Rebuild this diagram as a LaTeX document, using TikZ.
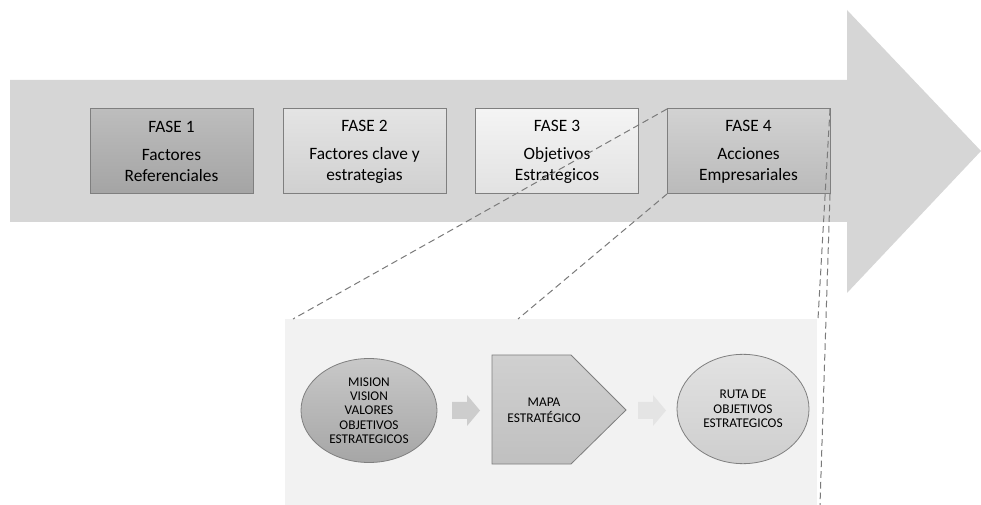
\documentclass[tikz,border=0pt]{standalone}
\usepackage{fontspec}
\setmainfont{Carlito}[Ligatures=CommonOff]
\usetikzlibrary{shapes.geometric}

\definecolor{band}{HTML}{D6D6D6}
\definecolor{panelbg}{HTML}{F2F2F2}
\definecolor{edge}{HTML}{7F7F7F}
\definecolor{dashc}{HTML}{7A7A7A}
\definecolor{stepA}{HTML}{CDCDCD}
\definecolor{stepB}{HTML}{E4E4E4}
\definecolor{oneTop}{HTML}{BDBDBD}
\definecolor{oneBot}{HTML}{A4A4A4}
\definecolor{twoTop}{HTML}{E4E4E4}
\definecolor{twoBot}{HTML}{D0D0D0}
\definecolor{threeTop}{HTML}{F4F4F4}
\definecolor{threeBot}{HTML}{E2E2E2}
\definecolor{fourTop}{HTML}{D2D2D2}
\definecolor{fourBot}{HTML}{BABABA}
\definecolor{misTop}{HTML}{C8C8C8}
\definecolor{misBot}{HTML}{A6A6A6}
\definecolor{mapTop}{HTML}{D0D0D0}
\definecolor{mapBot}{HTML}{C0C0C0}
\definecolor{rutaTop}{HTML}{E2E2E2}
\definecolor{rutaBot}{HTML}{CECECE}

\begin{document}
\begin{tikzpicture}[x=0.75pt,y=-0.75pt,
  phase/.style={draw=edge, line width=0.75pt, minimum width=122.25pt,
    minimum height=63.75pt, outer sep=0pt, inner sep=0pt, align=center,
    font=\fontsize{13}{15.75}\selectfont},
  blob/.style={ellipse, draw=edge, line width=0.6pt, inner sep=0pt, outer sep=0pt},
  label/.style={align=center, inner sep=0pt, font=\fontsize{10}{10.75}\selectfont},
  link/.style={draw=dashc, dash pattern=on 5pt off 3pt, line width=0.75pt},
  panel/.style={fill=panelbg, inner sep=0pt, outer sep=0pt,
    minimum width=399pt, minimum height=139.5pt}
]
\useasboundingbox (0,0) rectangle (981,505);

% broad process arrow
\fill[band] (10,80) -- (847,80) -- (847,10) -- (981,151) -- (847,293)
  -- (847,222) -- (10,222) -- cycle;

% the four phases
\node[phase, top color=oneTop, bottom color=oneBot] (f1) at (171.5,151.5)
  {FASE 1\\[5.25pt]Factores\\Referenciales};
\node[phase, top color=twoTop, bottom color=twoBot] (f2) at (364.5,151.5)
  {FASE 2\\[5.25pt]Factores clave y\\estrategias};
\node[phase, top color=threeTop, bottom color=threeBot] (f3) at (557,151.5)
  {FASE 3\\[5.25pt]Objetivos\\Estrategicos};
\node[phase, top color=fourTop, bottom color=fourBot] (f4) at (748.5,151.5)
  {FASE 4\\[5.25pt]Acciones\\Empresariales};

% detail panel for phase 4
\node[panel] (detail) at (551,412) {};

% first stage: statements
\node[blob, minimum width=102pt, minimum height=78pt,
  top color=misTop, bottom color=misBot] (e1) at (369,410.5) {};
\node[label] (t1) at (e1.center)
  {MISION\\VISION\\VALORES\\OBJETIVOS\\ESTRATEGICOS};

% step arrow 1
\fill[stepA] (452,402) -- (467,402) -- (467,395) -- (480,410.5) -- (467,426)
  -- (467,419) -- (452,419) -- cycle;

% second stage: strategy map (pentagon)
\draw[draw=edge, line width=0.6pt, top color=mapTop, bottom color=mapBot]
  (492,355) -- (571,355) -- (626,410) -- (571,464) -- (492,464) -- cycle;
\node[label, font=\fontsize{10}{11.75}\selectfont] (t2) at (544,410)
  {MAPA\\ESTRATÉGICO};

% step arrow 2
\fill[stepB] (638,402) -- (653,402) -- (653,395) -- (666,410.5) -- (653,426)
  -- (653,419) -- (638,419) -- cycle;

% third stage: route of objectives
\node[blob, minimum width=99pt, minimum height=82pt,
  top color=rutaTop, bottom color=rutaBot] (e3) at (743,409) {};
\node[label] (t3) at (e3.center) {RUTA DE\\OBJETIVOS\\ESTRATEGICOS};

% callout lines from phase 4 to its panel
\coordinate (c1) at (293,319);
\coordinate (c2) at (518,319);
\coordinate (c3) at (818,319);
\coordinate (c4) at (820,505);
\draw[link] (f4.north west) -- (c1);
\draw[link] (f4.south west) -- (c2);
\draw[link] (f4.north east) -- (c3);
\draw[link] (f4.south east) -- (c4);
\end{tikzpicture}
\end{document}
